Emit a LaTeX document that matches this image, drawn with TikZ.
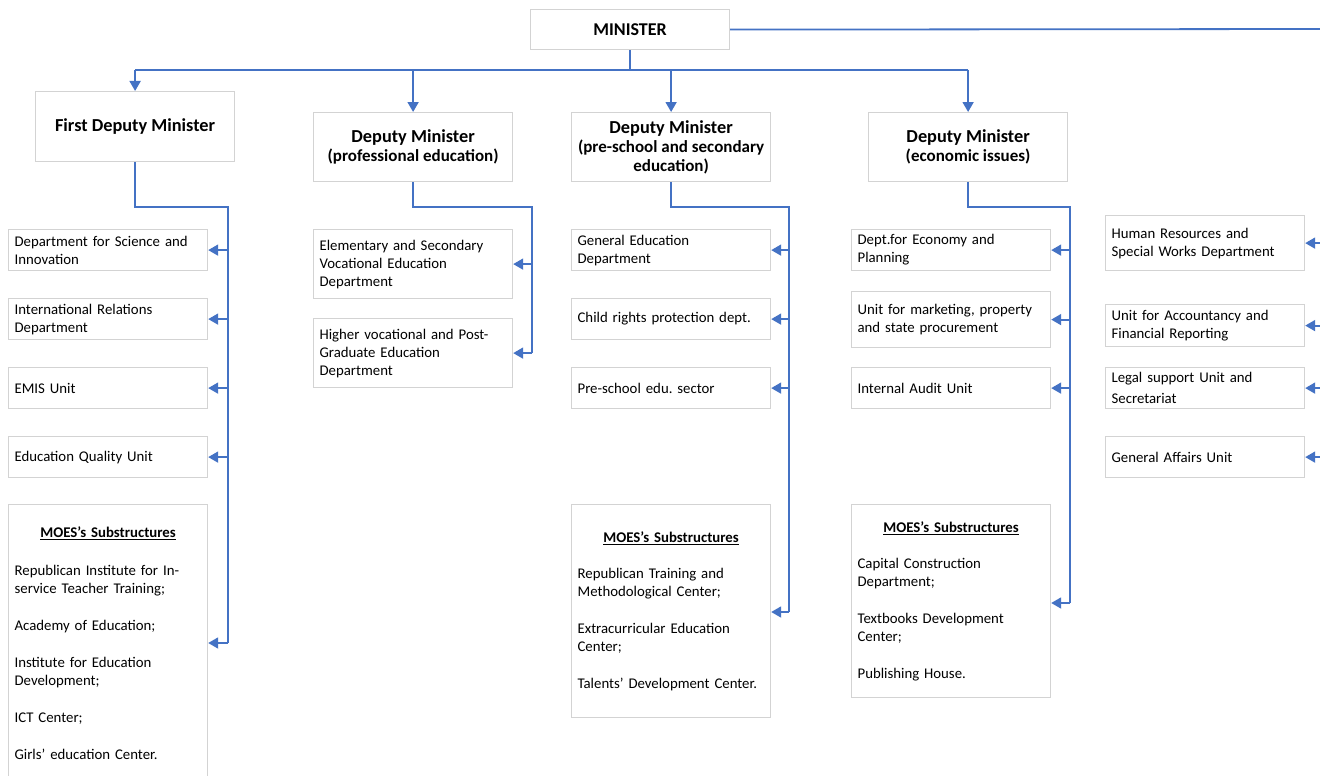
\documentclass[tikz,border=0pt]{standalone}
\usepackage{fontspec}
\setmainfont{Carlito}
\usetikzlibrary{arrows.meta}
\definecolor{lineblue}{HTML}{4472C4}
\definecolor{boxgray}{HTML}{D3D3D3}
\frenchspacing
\begin{document}
\begin{tikzpicture}[x=1pt,y=-1pt,
 box/.style={draw=boxgray, line width=1.2pt, fill=white, inner xsep=6pt, inner ysep=0pt, anchor=north west, align=left, font=\fontsize{14.8}{18}\selectfont},
 wbox/.style={box, minimum width=199pt, text width=187pt},
 head/.style={draw=boxgray, line width=1.2pt, fill=white, anchor=north west, align=center, inner sep=0pt, minimum width=199pt},
 big/.style={font=\fontsize{18.3}{20.5}\selectfont\bfseries},
 conn/.style={draw=lineblue, line width=1.8pt},
 arr/.style={conn, -{Triangle[length=10pt,width=11pt]}},
]
\useasboundingbox (0,0) rectangle (1320,776);
\fill[white] (0,0) rectangle (1320,776);
\newcommand{\subtx}[1]{{\fontsize{17}{20.5}\selectfont #1}}

% heads
\node[head, minimum height=40pt, font=\fontsize{18}{20}\selectfont\bfseries] (mnst) at (530,9) {MINISTER};
\node[head, minimum height=70pt, big] (fdm) at (35,91) {First Deputy Minister};
\node[head, minimum height=69pt, big] (dpp) at (313,112) {Deputy Minister\\[-1pt]\subtx{(professional education)}};
\node[head, minimum height=69pt, big] (dps) at (571,112) {Deputy Minister\\[-1.5pt]\subtx{(pre-school and secondary}\\[-1.5pt]\subtx{education)}};
\node[head, minimum height=69pt, big] (dec) at (868,112) {Deputy Minister\\[-1pt]\subtx{(economic issues)}};

% first deputy column
\node[wbox, minimum height=41pt] (fd1) at (8,229) {Department for Science and\\Innovation};
\node[wbox, minimum height=41pt] (fd2) at (8,298) {International Relations\\Department};
\node[wbox, minimum height=41pt] (fd3) at (8,367) {EMIS Unit};
\node[wbox, minimum height=41pt] (fd4) at (8,436) {Education Quality Unit};
\node[wbox, minimum height=277pt] (subL) at (8,504) {\makebox[\linewidth]{\bfseries\underline{MOES’s Substructures}}\\[20pt]Republican Institute for In-\\service Teacher Training;\\[19pt]Academy of Education;\\[19pt]Institute for Education\\Development;\\[19pt]ICT Center;\\[19pt]Girls’ education Center.};

% professional column
\node[wbox, minimum height=69pt] (pp1) at (313,229) {Elementary and Secondary\\Vocational Education\\Department};
\node[wbox, minimum height=69pt] (pp2) at (313,318) {Higher vocational and Post-\\Graduate Education\\Department};

% pre-school column
\node[wbox, minimum height=41pt] (ps1) at (571,229) {General Education\\Department};
\node[wbox, minimum height=41pt] (ps2) at (571,298) {Child rights protection dept.};
\node[wbox, minimum height=41pt] (ps3) at (571,367) {Pre-school edu. sector};
\node[wbox, minimum height=213pt] (subS) at (571,504) {\makebox[\linewidth]{\bfseries\underline{MOES’s Substructures}}\\[18pt]Republican Training and\\Methodological Center;\\[19pt]Extracurricular Education\\Center;\\[19pt]Talents’ Development Center.};

% economic column
\node[wbox, minimum height=41pt] (ec1) at (851,229) {Dept.for Economy and\\Planning};
\node[wbox, minimum height=56pt] (ec2) at (851,291) {Unit for marketing, property\\and state procurement};
\node[wbox, minimum height=41pt] (ec3) at (851,367) {Internal Audit Unit};
\node[wbox, minimum height=193pt] (subE) at (851,504) {\makebox[\linewidth]{\bfseries\underline{MOES’s Substructures}}\\[18pt]Capital Construction\\Department;\\[19pt]Textbooks Development\\Center;\\[19pt]Publishing House.};

% right column
\node[wbox, minimum height=55pt] (r1) at (1105,215) {Human Resources and\\Special Works Department};
\node[wbox, minimum height=42pt] (r2) at (1105,304) {Unit for Accountancy and\\Financial Reporting};
\node[wbox, minimum height=41pt] (r3) at (1105,367) {Legal support Unit and\\[3pt]Secretariat};
\node[wbox, minimum height=41pt] (r4) at (1105,436) {General Affairs Unit};

% top connectors
\coordinate (busY) at (0,70);
\draw[conn] (mnst.south) -- (mnst.south |- busY);
\draw[conn] (fdm.north |- busY) -- (dec.north |- busY);
\draw[arr] (fdm.north |- busY) -- (fdm.north);
\draw[arr] (dpp.north |- busY) -- (dpp.north);
\draw[arr] (dps.north |- busY) -- (dps.north);
\draw[arr] (dec.north |- busY) -- (dec.north);
% right bus (runs just outside the picture)
\coordinate (rtop) at (1330,29);
\coordinate (rbot) at (1330,457);
\draw[conn] (mnst.east) -- (rtop) -- (rbot);
\draw[arr] (r1.east -| rtop) -- (r1.east);
\draw[arr] (r2.east -| rtop) -- (r2.east);
\draw[arr] (r3.east -| rtop) -- (r3.east);
\draw[arr] (r4.east -| rtop) -- (r4.east);

% first deputy bus
\coordinate (lbus) at (228,207);
\coordinate (lend) at (228,643);
\draw[conn] (fdm.south) |- (lbus) -- (lend);
\draw[arr] (fd1.east -| lbus) -- (fd1.east);
\draw[arr] (fd2.east -| lbus) -- (fd2.east);
\draw[arr] (fd3.east -| lbus) -- (fd3.east);
\draw[arr] (fd4.east -| lbus) -- (fd4.east);
\draw[arr] (lend) -- (lend -| subL.east);

% professional bus
\coordinate (pbus) at (532,207);
\draw[conn] (dpp.south) |- (pbus) -- (pbus |- pp2.east);
\draw[arr] (pp1.east -| pbus) -- (pp1.east);
\draw[arr] (pp2.east -| pbus) -- (pp2.east);

% pre-school bus
\coordinate (sbus) at (789,207);
\coordinate (send) at (789,612);
\draw[conn] (dps.south) |- (sbus) -- (send);
\draw[arr] (ps1.east -| sbus) -- (ps1.east);
\draw[arr] (ps2.east -| sbus) -- (ps2.east);
\draw[arr] (ps3.east -| sbus) -- (ps3.east);
\draw[arr] (send) -- (send -| subS.east);

% economic bus
\coordinate (ebus) at (1070,207);
\coordinate (eend) at (1070,603);
\draw[conn] (dec.south) |- (ebus) -- (eend);
\draw[arr] (ec1.east -| ebus) -- (ec1.east);
\draw[arr] (ec2.east -| ebus) -- (ec2.east);
\draw[arr] (ec3.east -| ebus) -- (ec3.east);
\draw[arr] (eend) -- (eend -| subE.east);
\end{tikzpicture}
\end{document}
